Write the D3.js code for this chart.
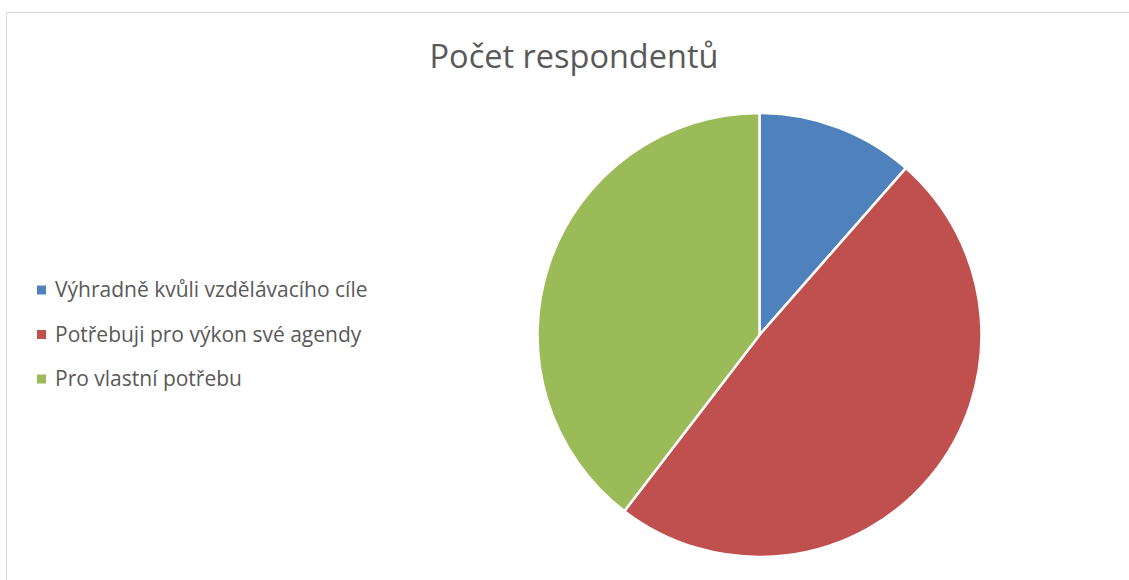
<!DOCTYPE html>
<html>
<head>
<meta charset="utf-8">
<script src="https://cdn.jsdelivr.net/npm/d3@7"></script>
<style>
  html, body { margin: 0; padding: 0; background: #fff; }
  svg { display: block; }
</style>
</head>
<body>
<svg id="chart" width="1129" height="580"></svg>
<script>
const categories = [
  "Výhradně kvůli vzdělávacího cíle",
  "Potřebuji pro výkon své agendy",
  "Pro vlastní potřebu"
];
const values = [11, 47, 38];
const colors = ["#4F81BD", "#C0504D", "#9BBB59"];
const title = "Počet respondentů";

const svg = d3.select("#chart");
const W = 1129, H = 580;

// chart area frame
svg.append("path")
  .attr("d", `M6.5,${H} V12.5 H${W}`)
  .attr("fill", "none")
  .attr("stroke", "#d9d9d9")
  .attr("stroke-width", 1);

svg.append("text")
  .attr("x", 574)
  .attr("y", 68)
  .attr("text-anchor", "middle")
  .attr("font-family", "Open Sans, sans-serif")
  .attr("font-size", 32.5)
  .attr("fill", "#595959")
  .text(title);

const data = categories.map((c, i) => ({ name: c, value: values[i], color: colors[i] }));

const pie = d3.pie().value(d => d.value).sort(null);
const arc = d3.arc().innerRadius(0).outerRadius(222);

const g = svg.append("g").attr("transform", "translate(759.5,335)");
g.selectAll("path")
  .data(pie(data))
  .join("path")
  .attr("d", arc)
  .attr("fill", d => d.data.color)
  .attr("stroke", "#fff")
  .attr("stroke-width", 2.5)
  .attr("stroke-linejoin", "round");

const legend = svg.append("g");
const rowY = d3.scalePoint().domain(categories).range([290, 379]);
const item = legend.selectAll("g")
  .data(data)
  .join("g")
  .attr("transform", d => `translate(37,${rowY(d.name)})`);
item.append("rect")
  .attr("x", 0).attr("y", -4.5)
  .attr("width", 9).attr("height", 9)
  .attr("fill", d => d.color);
item.append("text")
  .attr("x", 18)
  .attr("y", 7)
  .attr("font-family", "Open Sans, sans-serif")
  .attr("font-size", 21)
  .attr("fill", "#595959")
  .text(d => d.name);
</script>
</body>
</html>
